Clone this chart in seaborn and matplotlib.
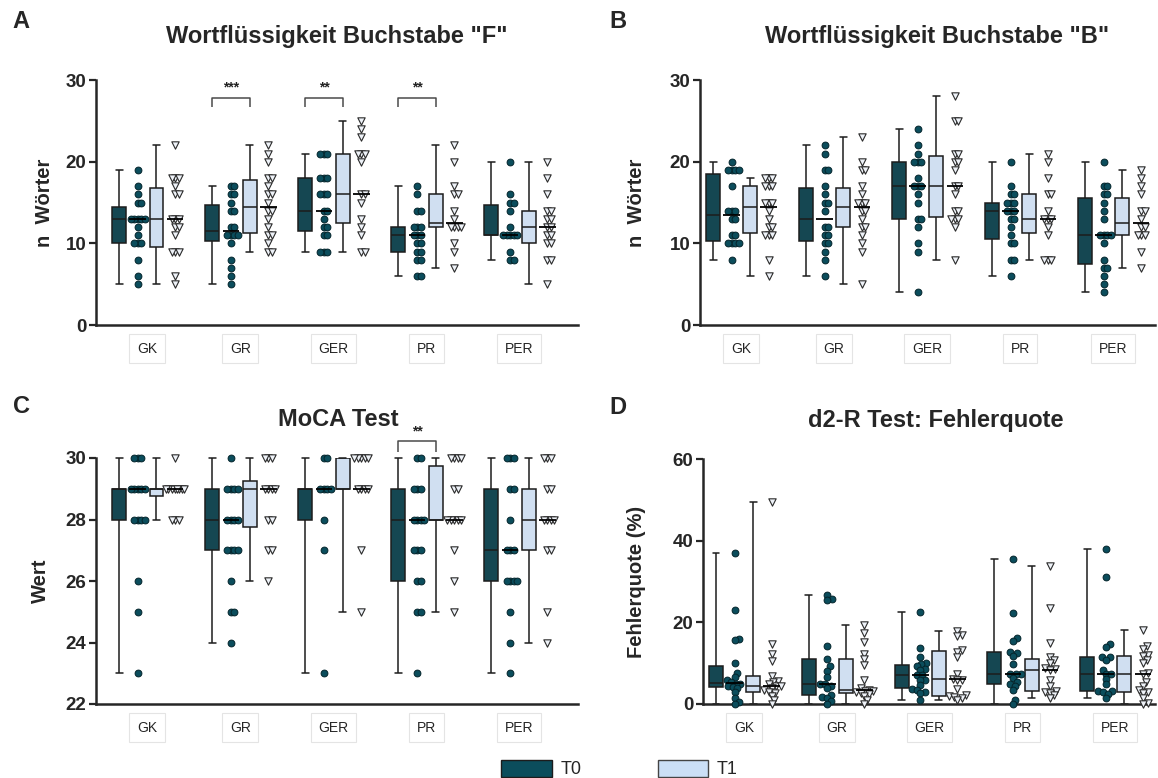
import warnings
warnings.filterwarnings("ignore")
import numpy as np
import pandas as pd
import matplotlib
matplotlib.use("Agg")
import matplotlib.pyplot as plt
from matplotlib.patches import Patch
import seaborn as sns

sns.set_style("ticks")
plt.rcParams["font.family"] = ["Liberation Sans", "DejaVu Sans"]

# ---------------- data ----------------
GROUPS = ["GK", "GR", "GER", "PR", "PER"]

# Panel A: Wortflüssigkeit Buchstabe "F" (order GK, GR, GER, PR, PER)
F_T0 = [
    [19, 17, 16, 15, 15, 13, 13, 13, 13, 13, 12, 11, 10, 10, 10, 8, 6, 5],
    [17, 17, 16, 16, 15, 14, 14, 12, 12, 11, 11, 11, 11, 10, 8, 7, 6, 5],
    [21, 21, 21, 18, 18, 18, 16, 16, 16, 14, 14, 13, 12, 12, 11, 11, 9, 9, 9],
    [17, 16, 14, 14, 12, 12, 12, 11, 11, 11, 10, 10, 9, 9, 8, 8, 6, 6],
    [20, 16, 15, 15, 14, 12, 11, 11, 11, 11, 11, 9, 8, 8],
]
F_T1 = [
    [22, 18, 18, 18, 17, 16, 16, 13, 13, 13, 12, 12, 11, 9, 9, 9, 6, 5],
    [22, 21, 20, 18, 18, 17, 16, 16, 15, 14, 14, 13, 12, 11, 11, 10, 9, 9],
    [25, 24, 23, 21, 21, 21, 20, 16, 16, 15, 13, 12, 11, 9, 9],
    [22, 20, 17, 16, 16, 14, 13, 12, 12, 12, 12, 10, 9, 7],
    [20, 18, 16, 14, 14, 13, 13, 12, 12, 11, 11, 10, 10, 8, 8, 5],
]

# Panel B: Wortflüssigkeit Buchstabe "B"
B_T0 = [
    [20, 19, 19, 19, 19, 17, 14, 14, 14, 13, 13, 11, 11, 10, 10, 10, 10, 8],
    [22, 21, 19, 19, 17, 16, 15, 15, 14, 12, 12, 11, 11, 10, 10, 9, 8, 6],
    [24, 22, 21, 20, 20, 20, 18, 17, 17, 17, 16, 15, 13, 13, 12, 10, 9, 4],
    [20, 17, 16, 16, 15, 15, 15, 14, 14, 14, 13, 13, 12, 11, 10, 10, 8, 8, 6],
    [20, 17, 17, 16, 16, 15, 14, 13, 11, 11, 11, 11, 10, 8, 7, 7, 6, 5, 4],
]
B_T1 = [
    [18, 18, 18, 17, 17, 17, 15, 15, 15, 14, 13, 12, 12, 11, 11, 11, 8, 6],
    [23, 20, 19, 19, 17, 16, 15, 15, 15, 14, 14, 13, 12, 12, 11, 10, 9, 5],
    [28, 25, 25, 21, 21, 20, 20, 19, 17, 17, 16, 14, 14, 13, 13, 13, 12, 8],
    [21, 20, 18, 16, 16, 14, 13, 13, 13, 12, 11, 8, 8, 8],
    [19, 18, 17, 16, 14, 14, 13, 12, 12, 11, 11, 11, 9, 7],
]

# Panel C: MoCA Test
MOCA_T0 = [
    [30, 30, 30, 29, 29, 29, 29, 29, 28, 28, 28, 28, 26, 25, 23],
    [30, 29, 29, 29, 29, 28, 28, 28, 28, 27, 27, 27, 27, 26, 25, 25, 24],
    [30, 30, 29, 29, 29, 29, 28, 27, 23],
    [30, 30, 29, 29, 29, 28, 28, 28, 28, 27, 27, 27, 26, 26, 25, 25, 23],
    [30, 30, 30, 29, 29, 28, 27, 27, 27, 26, 26, 26, 26, 25, 24, 23],
]
MOCA_T1 = [
    [30, 29, 29, 29, 29, 29, 29, 29, 29, 28, 28, 28],
    [30, 30, 30, 29, 29, 29, 29, 28, 28, 27, 27, 26],
    [30, 30, 30, 30, 30, 29, 29, 29, 29, 27, 25],
    [30, 30, 30, 30, 29, 29, 28, 28, 28, 28, 28, 27, 26, 25],
    [30, 30, 30, 29, 29, 28, 28, 28, 28, 27, 27, 25, 24],
]

# Panel D: d2-R Test Fehlerquote (%)
D2_T0 = [
    [37, 23, 16, 15.7, 10, 7.5, 6.5, 6, 5.5, 5, 5, 4.5, 4.2, 4, 3, 1.5, 0.5, 0],
    [26.7, 25.6, 25.4, 14.2, 11, 9.2, 8.2, 6.7, 5, 4.8, 4.5, 3.8, 2.2, 1.8, 1.5, 0.8, 0],
    [22.6, 13.8, 11.4, 10, 9.7, 9.2, 8.5, 8.3, 7.1, 7, 6, 5.9, 4.7, 3.6, 3.5, 3, 2.6, 1.1],
    [35.6, 22.4, 16.1, 15.5, 12.8, 12.4, 11.8, 9.7, 7.4, 7.3, 7.3, 6.3, 5.5, 4.8, 4.5, 3.4, 1.1, 0],
    [38, 31.1, 14.6, 14, 11.6, 11.4, 10.8, 8.3, 7.3, 7.3, 6.1, 4.8, 3.3, 3.2, 3, 2.5, 1.4],
]
D2_T1 = [
    [49.5, 14.7, 12.3, 10.6, 6.8, 5.7, 5.5, 5, 4.3, 4.3, 4, 3.5, 3, 2.8, 2, 1, 0],
    [19.4, 17.3, 15.3, 12.3, 11, 9.6, 5.9, 4, 3.35, 3.3, 3.2, 3, 2.8, 2.5, 2, 1, 0],
    [18, 17, 16.7, 13.2, 12.8, 11.4, 7.4, 6.2, 6, 5.8, 3.6, 2.1, 2, 1.8, 1.5, 1],
    [33.9, 23.6, 15, 11.4, 10.8, 10, 8.7, 8.5, 8.3, 6, 4.3, 3.3, 3, 2.8, 2.2, 1.4],
    [18.1, 14.2, 13.4, 12, 11.8, 10.8, 10, 7.5, 7.3, 5.5, 4.5, 3.4, 3, 2.6, 1.4, 0.2, 0],
]

# significance annotations: (group, stars)
SIG_A = [("GR", "***"), ("GER", "**"), ("PR", "**")]
SIG_C = [("PR", "**")]

# ---------------- style ----------------
W, H = 1158, 778
DARK = "#0b4d5c"
LIGHT = "#cbdff6"
TRI = "#eef2f8"
SLOTS = ["T0 box", "T0 pts", "T1 box", "T1 pts"]
PAL = {"T0 box": DARK, "T0 pts": DARK, "T1 box": LIGHT, "T1 pts": TRI}
SLOT_SHIFT = {"T0": -0.1, "T1": 0.3}   # centre of the point columns (dodge slots)

fig = plt.figure(figsize=(W / 100, H / 100), dpi=100)


def axes_at(left, right, top, bottom):
    return fig.add_axes([left / W, 1 - bottom / H, (right - left) / W, (bottom - top) / H])


def make_df(t0, t1):
    rows = []
    for t, lists in (("T0", t0), ("T1", t1)):
        for g, vals in zip(GROUPS, lists):
            for v in vals:
                rows.append((g, t, v))
    df = pd.DataFrame(rows, columns=["group", "time", "value"])
    df["box"] = df["time"] + " box"
    df["pts"] = df["time"] + " pts"
    return df


def swarm_offsets(values, py, min_dist, max_half, px_x):
    """GraphPad-like column scatter: spread close/tied points sideways (pixel space)."""
    values = np.asarray(values, dtype=float)
    order = np.argsort(values, kind="stable")
    cand = [0.0]
    o = 0.25
    while o <= max_half + 1e-9:
        cand += [o, -o]
        o += 0.25
    placed = []
    offs = np.zeros(len(values))
    for i in order:
        y = values[i] * py
        best = None
        for c in cand:
            if all((c - qx) ** 2 + (y - qy) ** 2 >= min_dist ** 2 for qx, qy in placed):
                best = c
                break
        if best is None:
            best = max(cand, key=lambda c: min((c - qx) ** 2 + (y - qy) ** 2 for qx, qy in placed))
        placed.append((best, y))
        offs[i] = best / px_x
    return offs


def draw(ax, t0, t1, ylim, yticks, xlim, ylabel, ylabel_x, min_dist, max_half):
    df = make_df(t0, t1)
    pos = ax.get_position()
    px_x = pos.width * W / (xlim[1] - xlim[0])
    py = pos.height * H / (ylim[1] - ylim[0])

    common = dict(x="group", y="value", order=GROUPS, hue_order=SLOTS,
                  dodge=True, palette=PAL, legend=False, ax=ax)
    sns.boxplot(data=df, hue="box", width=0.8, gap=0.25, whis=(0, 100),
                showfliers=False, linecolor="#1c1c1c", linewidth=1.1, **common)
    sns.boxplot(data=df, hue="pts", width=0.8, gap=0.1, whis=(0, 100),
                showfliers=False, linecolor="black", linewidth=1.3,
                boxprops=dict(visible=False), whiskerprops=dict(visible=False),
                capprops=dict(visible=False),
                medianprops=dict(color="black", linewidth=1.3, zorder=4),
                **common)

    df["xpos"] = df["group"].map(GROUPS.index).astype(float) + df["time"].map(SLOT_SHIFT)
    for (g, t), sub in df.groupby(["group", "time"]):
        df.loc[sub.index, "xpos"] += swarm_offsets(sub["value"].values, py, min_dist, max_half, px_x)

    sns.scatterplot(data=df[df["time"] == "T0"], x="xpos", y="value", color=DARK,
                    marker="o", s=24, edgecolor="#04242b", linewidth=0.7,
                    legend=False, ax=ax, zorder=3, clip_on=False)
    sns.scatterplot(data=df[df["time"] == "T1"], x="xpos", y="value", color=TRI,
                    marker="v", s=28, edgecolor="#2a2a2a", linewidth=0.8,
                    legend=False, ax=ax, zorder=3, clip_on=False)
    for ln in ax.lines:
        ln.set_clip_on(False)

    ax.set_xlim(*xlim)
    ax.set_ylim(*ylim)
    ax.set_yticks(yticks)
    ax.set_xticks(range(len(GROUPS)))
    ax.set_xticklabels(GROUPS)
    ax.set_xlabel("")
    ax.set_ylabel(ylabel, fontsize=14.5, fontweight="bold")
    ax.yaxis.set_label_coords(ylabel_x, 0.5)
    for s in ("top", "right"):
        ax.spines[s].set_visible(False)
    for s in ("left", "bottom"):
        ax.spines[s].set_linewidth(1.8)
    ax.tick_params(axis="y", length=5, width=1.6, labelsize=13.5, pad=2)
    ax.tick_params(axis="x", length=0, labelsize=10, pad=12)
    for lab in ax.get_yticklabels():
        lab.set_fontweight("bold")
    for lab in ax.get_xticklabels():
        lab.set_bbox(dict(facecolor="white", edgecolor="#e4e4e4", linewidth=0.8,
                          boxstyle="square,pad=0.55"))


def bracket(ax, group, stars, y_leg, y_top, y_txt):
    g = GROUPS.index(group)
    x0, x1 = g - 0.3, g + 0.1
    ax.plot([x0, x0, x1, x1], [y_leg, y_top, y_top, y_leg], color="#4a4a4a",
            lw=1.1, clip_on=False, solid_capstyle="butt")
    ax.text((x0 + x1) / 2, y_txt, stars, ha="center", va="bottom", fontsize=10,
            fontweight="bold", color="#222222", clip_on=False)


axA = axes_at(96, 578, 80, 325)
axB = axes_at(700, 1155, 80, 325)
axC = axes_at(96, 578, 458, 704)
axD = axes_at(703, 1155, 459, 704)

draw(axA, F_T0, F_T1, (0, 30), [0, 10, 20, 30], (-0.55, 4.63), "n  Wörter", -0.088, 3.3, 9.0)
draw(axB, B_T0, B_T1, (0, 30), [0, 10, 20, 30], (-0.44, 4.45), "n  Wörter", -0.118, 3.3, 9.0)
draw(axC, MOCA_T0, MOCA_T1, (22, 30), [22, 24, 26, 28, 30], (-0.55, 4.63), "Wert", -0.095, 3.3, 9.0)
draw(axD, D2_T0, D2_T1, (0, 60), [0, 20, 40, 60], (-0.44, 4.43), "Fehlerquote (%)", -0.125, 4.8, 9.5)

for grp, st in SIG_A:
    bracket(axA, grp, st, 26.7, 27.8, 28.2)
for grp, st in SIG_C:
    bracket(axC, grp, st, 30.2, 30.55, 30.65)

# titles and panel letters
TITLE_SIZE = 17
fig.text(337 / W, 1 - 36 / H, 'Wortflüssigkeit Buchstabe "F"', ha="center", va="center",
         fontsize=TITLE_SIZE, fontweight="bold")
fig.text(937 / W, 1 - 36 / H, 'Wortflüssigkeit Buchstabe "B"', ha="center", va="center",
         fontsize=TITLE_SIZE, fontweight="bold")
fig.text(338 / W, 1 - 420 / H, "MoCA Test", ha="center", va="center",
         fontsize=TITLE_SIZE, fontweight="bold")
fig.text(936 / W, 1 - 420 / H, "d2-R Test: Fehlerquote", ha="center", va="center",
         fontsize=TITLE_SIZE, fontweight="bold")
for letter, (px, py_) in {"A": (21, 22), "B": (618, 22), "C": (21, 406), "D": (618, 407)}.items():
    fig.text(px / W, 1 - py_ / H, letter, ha="center", va="center", fontsize=17, fontweight="bold")

handles = [Patch(facecolor=DARK, edgecolor="#1c1c1c", label="T0"),
           Patch(facecolor=LIGHT, edgecolor="#444444", label="T1")]
fig.legend(handles=handles, loc="center", bbox_to_anchor=(0.535, 1 - 769 / H), ncol=2,
           frameon=False, fontsize=13, handlelength=2.8, handleheight=1.1,
           columnspacing=4.2, handletextpad=0.5)

fig.savefig("out.png", dpi=100)
